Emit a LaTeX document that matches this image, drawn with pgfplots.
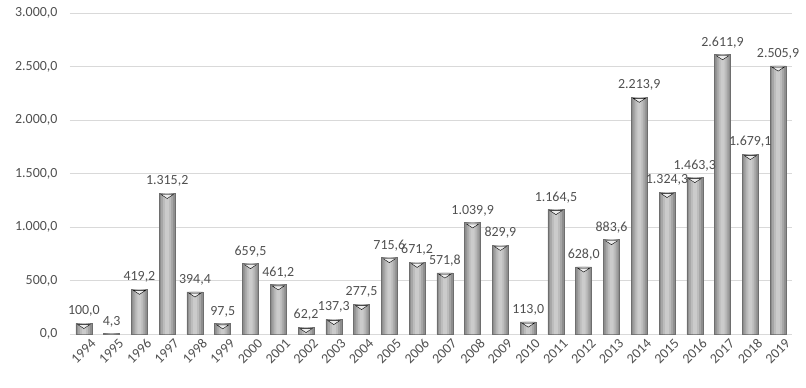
\documentclass[border=0pt]{standalone}
\usepackage{pgfplots}
\pgfplotsset{compat=1.18}
\usepackage{pgfplotstable}
\usepackage{fontspec}
\setmainfont{Carlito}
\definecolor{txtc}{HTML}{505050}
\definecolor{gridc}{HTML}{D9D9D9}
\definecolor{barA}{HTML}{6E6E6E}
\definecolor{barB}{HTML}{8E8E8E}
\definecolor{barC}{HTML}{A6A6A6}
\definecolor{barD}{HTML}{BCBCBC}
\definecolor{barE}{HTML}{CBCBCB}
\pgfplotstableread{
x y
0 100.0
1 4.3
2 419.2
3 1315.2
4 394.4
5 97.5
6 659.5
7 461.2
8 62.2
9 137.3
10 277.5
11 715.6
12 671.2
13 571.8
14 1039.9
15 829.9
16 113.0
17 1164.5
18 628.0
19 883.6
20 2213.9
21 1324.3
22 1463.3
23 2611.9
24 1679.1
25 2505.9
}\datatable
\begin{document}
\begin{tikzpicture}
\begin{axis}[
  scale only axis,
  width=722bp, height=321bp,
  xmin=-0.5, xmax=25.5,
  ymin=0, ymax=3000,
  ytick={0,500,...,3000},
  xtick={0,...,25},
  xticklabels={1994,1995,1996,1997,1998,1999,2000,2001,2002,2003,2004,2005,2006,2007,2008,2009,2010,2011,2012,2013,2014,2015,2016,2017,2018,2019},
  x tick label style={rotate=45, anchor=north east, inner sep=1pt, xshift=3bp, yshift=-6bp},
  tick label style={font=\fontsize{14}{16}\selectfont, text=txtc},
  yticklabel style={anchor=east, xshift=-9bp},
  yticklabel={\pgfmathprintnumber[fixed, fixed zerofill, precision=1, use comma, 1000 sep={.}, assume math mode=true]{\tick}},
  ymajorgrids,
  grid style={draw=gridc, line width=0.8pt},
  axis line style={draw=none},
  xtick pos=bottom, ytick pos=left,
  major tick length=0pt,
  clip=false,
]
\draw[draw=gridc, line width=0.8pt] (axis cs:-0.5,0) -- (axis cs:25.5,0);
\addplot[ybar, bar shift=0pt, bar width=16bp, draw=barA, line width=0.5pt, fill=barB,
  nodes near coords={\pgfmathprintnumber[fixed, fixed zerofill, precision=1, use comma, 1000 sep={.}, assume math mode=true]{\pgfplotspointmeta}},
  nodes near coords style={font=\fontsize{14}{16}\selectfont, text=txtc, anchor=south, yshift=3bp}]
  table[x=x,y=y]{\datatable};
\addplot[ybar, bar shift=0pt, bar width=12bp, draw=none, fill=barC]
  table[x=x,y=y]{\datatable};
\addplot[ybar, bar shift=0pt, bar width=8bp, draw=none, fill=barD]
  table[x=x,y=y]{\datatable};
\addplot[ybar, bar shift=0pt, bar width=4bp, draw=none, fill=barE]
  table[x=x,y=y]{\datatable};
\addplot[only marks, mark=triangle*, mark size=7bp, restrict y to domain=40:10000,
  mark options={yshift=-2.6bp, rotate=180, yscale=0.38, fill=white!93!black, draw=none}]
  table[x=x,y=y]{\datatable};
\end{axis}
\pgfresetboundingbox
\path ([xshift=-70bp,yshift=-54bp]current axis.south west) rectangle ([xshift=14bp,yshift=13bp]current axis.north east);
\end{tikzpicture}
\end{document}
